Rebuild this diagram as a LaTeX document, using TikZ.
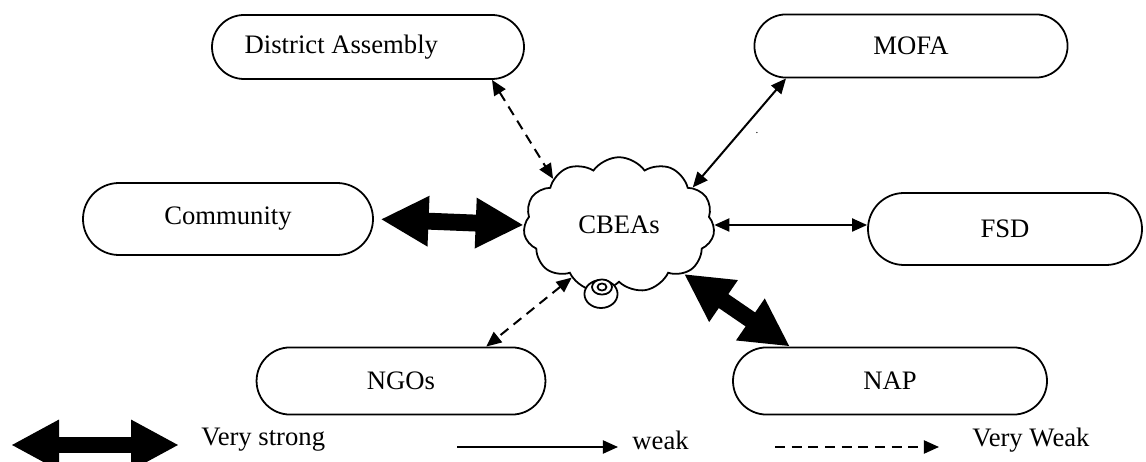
\documentclass[tikz,border=0pt]{standalone}
\usepackage{fontspec}
\setmainfont{Liberation Serif}
\usetikzlibrary{shapes.misc,shapes.symbols,shapes.geometric,arrows.meta}

\begin{document}
\begin{tikzpicture}[x=0.45pt,y=-0.45pt,font=\fontsize{12}{14}\selectfont]
	\tikzstyle{org} = [draw, line width=0.8pt, fill=white, rounded rectangle, inner sep=0pt]
	\tikzstyle{strong} = [line width=7.6pt, {Triangle[length=21.6pt,width=21.2pt]}-{Triangle[length=21.6pt,width=21.2pt]}]
	\tikzstyle{weak} = [line width=0.9pt, {Triangle[length=6.8pt,width=5.9pt]}-{Triangle[length=6.8pt,width=5.9pt]}]
	\tikzstyle{vweak} = [weak, dash pattern=on 4.5pt off 3pt]
	\tikzstyle{bubble} = [draw, line width=0.8pt, fill=white, ellipse, inner sep=0pt]
	\tikzstyle{key} = [anchor=west, inner sep=0pt]
	\useasboundingbox (0,0) rectangle (1146,462);

	\node[org, minimum width=140.4pt, minimum height=28.8pt] (da) at (368,47) {District Assembly\kern24pt\strut};
	\node[org, minimum width=140.9pt, minimum height=28.4pt] (mofa) at (911,46) {MOFA};
	\node[org, minimum width=130.5pt, minimum height=32.4pt] (comm) at (228,219) {Community};
	\node[org, minimum width=123.3pt, minimum height=32.4pt] (fsd) at (1005,229) {FSD};
	\node[org, minimum width=130pt, minimum height=30.2pt] (ngo) at (401,381) {NGOs};
	\node[org, minimum width=141.3pt, minimum height=30.2pt] (nap) at (890,381) {NAP};

	\node[cloud, draw, line width=0.8pt, cloud puffs=11, cloud puff arc=110, aspect=1.4, minimum width=86pt, minimum height=61pt, inner sep=0pt] (cbea) at (619,225) {CBEAs};
	\node[bubble, minimum width=14.9pt, minimum height=12.6pt] (tail) at (601,294) {};
	\node[bubble, minimum width=9pt, minimum height=6.8pt] (ring) at (602,287) {};
	\node[bubble, minimum width=4pt, minimum height=3.2pt] (ringin) at (602,287) {};
	\node[font=\tiny, inner sep=0pt] (dot) at (757,133) {.};

	\draw[vweak] (da.south east) -- (cbea.145);
	\draw[weak] (mofa.south west) -- (cbea.27);
	\draw[strong, shorten <=3pt] (comm.east) -- (cbea.west);
	\draw[weak] (cbea.east) -- (cbea.east -| fsd.west);
	\draw[strong] (cbea.-37) -- (nap.161);
	\draw[vweak] (cbea.228) -- (ngo.22);

	% legend
	\coordinate (s1) at (11,445);
	\coordinate (s2) at (179,445);
	\draw[strong] (s1) -- (s2);
	\node[key] (kstrong) at (201,440) {Very strong};
	\coordinate (w1) at (457,447);
	\coordinate (w2) at (618,447);
	\draw[line width=0.9pt, -{Triangle[length=6.8pt,width=5.9pt]}] (w1) -- (w2);
	\node[key] (kweak) at (632,440) {weak};
	\coordinate (v1) at (775,447);
	\coordinate (v2) at (939,447);
	\draw[line width=0.9pt, dash pattern=on 4.5pt off 3pt, -{Triangle[length=6.8pt,width=5.9pt]}] (v1) -- (v2);
	\node[key] (kvweak) at (972,440) {Very Weak};
\end{tikzpicture}
\end{document}
